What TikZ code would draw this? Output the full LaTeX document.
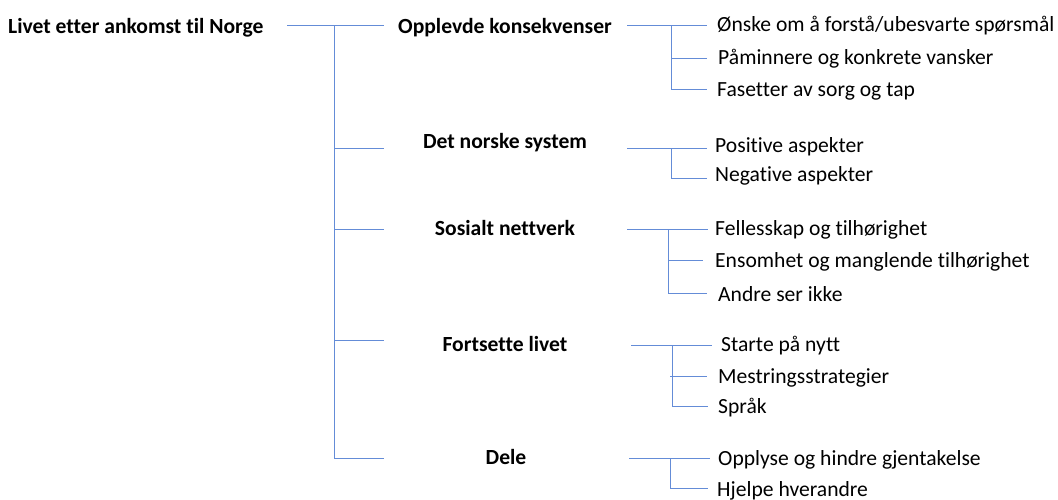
\documentclass[tikz,border=0pt]{standalone}
\usepackage{fontspec}
\setmainfont{Carlito}[Ligatures={NoCommon}]
\definecolor{linec}{RGB}{100,140,215}
\begin{document}
\begin{tikzpicture}[x=1pt,y=-1pt,
  conn/.style={draw=linec, line width=0.9pt},
  lab/.style={anchor=base west, font=\fontsize{21.6}{24}\selectfont, inner sep=0pt},
  head/.style={anchor=base, font=\bfseries\fontsize{21.6}{24}\selectfont, inner sep=0pt}]
\useasboundingbox (0,0) rectangle (1058,499);
% root
\node[lab, font=\bfseries\fontsize{21.6}{24}\selectfont] (root) at (8,33) {Livet etter ankomst til Norge};
\coordinate (r0) at (287,25);
\coordinate (t1) at (334,25);
\coordinate (t2) at (334,148);
\coordinate (t3) at (334,229);
\coordinate (t4) at (334,340);
\coordinate (t5) at (334,458);
\draw[conn] (r0) -- (t1) -- (t5);
\foreach \i/\y in {1/25,2/148,3/229,4/340,5/458}{
  \coordinate (e\i) at (384,\y);
  \draw[conn] (t\i) -- (e\i);
}
% level 1
\node[head] (h1) at (505,33) {Opplevde konsekvenser};
\node[head] (h2) at (505,148) {Det norske system};
\node[head] (h3) at (505,235) {Sosialt nettverk};
\node[head] (h4) at (505,351) {Fortsette livet};
\node[head] (h5) at (506,464) {Dele};
% group 1
\coordinate (g1s) at (627,25); \coordinate (g1a) at (671,25); \coordinate (g1b) at (671,58); \coordinate (g1c) at (671,89);
\coordinate (g1a') at (707,25); \coordinate (g1b') at (707,58); \coordinate (g1c') at (707,89);
\draw[conn] (g1s) -- (g1a') (g1a) -- (g1c) -- (g1c') (g1b) -- (g1b');
\node[lab] (l11) at (717,31) {Ønske om å forstå/ubesvarte spørsmål};
\node[lab] (l12) at (718,64) {Påminnere og konkrete vansker};
\node[lab] (l13) at (717,96) {Fasetter av sorg og tap};
% group 2
\coordinate (g2s) at (627,148); \coordinate (g2a) at (671,148); \coordinate (g2b) at (671,178);
\coordinate (g2a') at (707,148); \coordinate (g2b') at (707,178);
\draw[conn] (g2s) -- (g2a') (g2a) -- (g2b) -- (g2b');
\node[lab] (l21) at (715,152) {Positive aspekter};
\node[lab] (l22) at (715,181) {Negative aspekter};
% group 3
\coordinate (g3s) at (627,229); \coordinate (g3a) at (668,229); \coordinate (g3b) at (668,260); \coordinate (g3c) at (668,293);
\coordinate (g3a') at (708,229); \coordinate (g3b') at (703,260); \coordinate (g3c') at (707,293);
\draw[conn] (g3s) -- (g3a') (g3a) -- (g3c) -- (g3c') (g3b) -- (g3b');
\node[lab] (l31) at (715,235) {Fellesskap og tilhørighet};
\node[lab] (l32) at (715,267) {Ensomhet og manglende tilhørighet};
\node[lab] (l33) at (718,301) {Andre ser ikke};
% group 4
\coordinate (g4s) at (631,345); \coordinate (g4a) at (672,345); \coordinate (g4b) at (670,376); \coordinate (g4c) at (672,406);
\coordinate (g4a') at (712,345); \coordinate (g4b') at (707,376); \coordinate (g4c') at (708,406);
\draw[conn] (g4s) -- (g4a') (g4a) -- (g4c) -- (g4c') (g4b) -- (g4b');
\node[lab] (l41) at (721,351) {Starte på nytt};
\node[lab] (l42) at (718,383) {Mestringsstrategier};
\node[lab] (l43) at (718,413) {Språk};
% group 5
\coordinate (g5s) at (629,458); \coordinate (g5a) at (670,458); \coordinate (g5b) at (670,488);
\coordinate (g5a') at (710,458); \coordinate (g5b') at (708,488);
\draw[conn] (g5s) -- (g5a') (g5a) -- (g5b) -- (g5b');
\node[lab] (l51) at (718,465) {Opplyse og hindre gjentakelse};
\node[lab] (l52) at (717,496) {Hjelpe hverandre};
\end{tikzpicture}
\end{document}
